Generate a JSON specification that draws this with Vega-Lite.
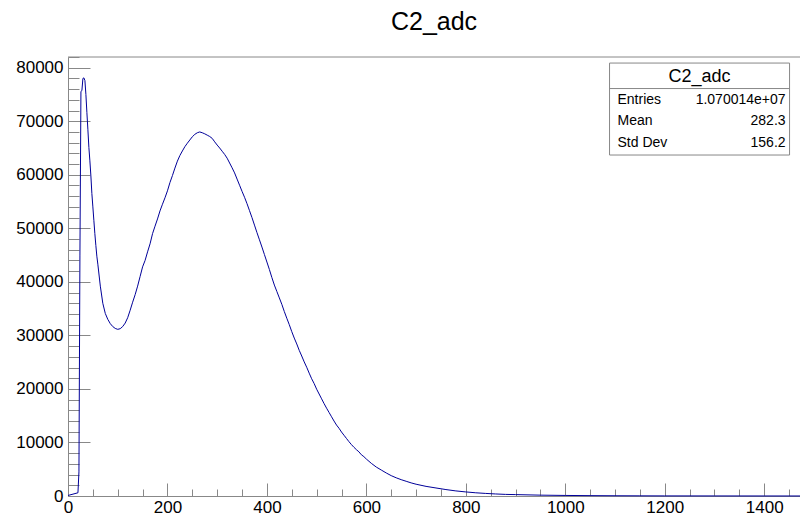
{
  "$schema": "https://vega.github.io/schema/vega-lite/v6.json",
  "width": 732,
  "height": 439,
  "autosize": {"type": "none"},
  "padding": {"left": 68, "top": 57, "right": 0, "bottom": 23},
  "background": "white",
  "config": {
    "view": {"stroke": null},
    "font": "Liberation Sans",
    "axis": {"labelFont": "Liberation Sans", "labelColor": "#000", "tickColor": "#888", "domainColor": "#888", "grid": false, "title": null}
  },
  "title": {"text": "C2_adc", "fontSize": 25, "fontWeight": "normal", "font": "Liberation Sans", "color": "#000", "anchor": "middle", "offset": 22},
  "datasets": {
    "hist": [
      {"x": 0, "y": 100}, {"x": 20, "y": 600}, {"x": 22, "y": 4500}, {"x": 24, "y": 45000}, {"x": 26, "y": 75500}, {"x": 28, "y": 75800},
      {"x": 30, "y": 78000}, {"x": 32, "y": 78100}, {"x": 34, "y": 77600}, {"x": 36, "y": 75000}, {"x": 38, "y": 71600}, {"x": 40, "y": 68400},
      {"x": 42, "y": 65100}, {"x": 44, "y": 62600}, {"x": 46, "y": 59800}, {"x": 48, "y": 56500}, {"x": 50, "y": 54000}, {"x": 52, "y": 51500},
      {"x": 54, "y": 49000}, {"x": 56, "y": 46800}, {"x": 58, "y": 44800}, {"x": 60, "y": 43300}, {"x": 65, "y": 39200}, {"x": 70, "y": 36000},
      {"x": 75, "y": 34100}, {"x": 80, "y": 33000}, {"x": 85, "y": 32200}, {"x": 90, "y": 31650}, {"x": 95, "y": 31300}, {"x": 100, "y": 31130},
      {"x": 105, "y": 31250}, {"x": 110, "y": 31650}, {"x": 115, "y": 32300}, {"x": 120, "y": 33300}, {"x": 125, "y": 34700}, {"x": 130, "y": 36200},
      {"x": 135, "y": 37600}, {"x": 140, "y": 39200}, {"x": 145, "y": 41000}, {"x": 150, "y": 42800}, {"x": 155, "y": 44000}, {"x": 160, "y": 45600},
      {"x": 165, "y": 47100}, {"x": 170, "y": 49000}, {"x": 175, "y": 50400}, {"x": 180, "y": 51750}, {"x": 185, "y": 53250}, {"x": 190, "y": 54500},
      {"x": 195, "y": 55700}, {"x": 200, "y": 57000}, {"x": 205, "y": 58550}, {"x": 210, "y": 59850}, {"x": 215, "y": 61250}, {"x": 220, "y": 62550},
      {"x": 225, "y": 63600}, {"x": 230, "y": 64450}, {"x": 235, "y": 65250}, {"x": 240, "y": 65900}, {"x": 245, "y": 66500}, {"x": 250, "y": 67100},
      {"x": 255, "y": 67550}, {"x": 260, "y": 67850}, {"x": 265, "y": 68000}, {"x": 270, "y": 67850}, {"x": 275, "y": 67650}, {"x": 280, "y": 67400},
      {"x": 285, "y": 67150}, {"x": 290, "y": 66800}, {"x": 295, "y": 66150}, {"x": 300, "y": 65550}, {"x": 305, "y": 65000}, {"x": 310, "y": 64400},
      {"x": 315, "y": 63800}, {"x": 320, "y": 63100}, {"x": 325, "y": 62200}, {"x": 330, "y": 61300}, {"x": 335, "y": 60350}, {"x": 340, "y": 59200},
      {"x": 345, "y": 58050}, {"x": 350, "y": 56900}, {"x": 355, "y": 55800}, {"x": 360, "y": 54600}, {"x": 365, "y": 53300}, {"x": 370, "y": 52000},
      {"x": 375, "y": 50600}, {"x": 380, "y": 49200}, {"x": 385, "y": 47850}, {"x": 390, "y": 46500}, {"x": 395, "y": 45100}, {"x": 400, "y": 43700},
      {"x": 405, "y": 42300}, {"x": 410, "y": 40800}, {"x": 415, "y": 39400}, {"x": 420, "y": 38200}, {"x": 425, "y": 37000}, {"x": 430, "y": 35800},
      {"x": 435, "y": 34450}, {"x": 440, "y": 33200}, {"x": 445, "y": 32000}, {"x": 450, "y": 30700}, {"x": 455, "y": 29500}, {"x": 460, "y": 28400},
      {"x": 465, "y": 27200}, {"x": 470, "y": 26150}, {"x": 475, "y": 25050}, {"x": 480, "y": 24050}, {"x": 485, "y": 22950}, {"x": 490, "y": 21900},
      {"x": 495, "y": 21000}, {"x": 500, "y": 19950}, {"x": 505, "y": 19050}, {"x": 510, "y": 18150}, {"x": 515, "y": 17250}, {"x": 520, "y": 16400},
      {"x": 525, "y": 15600}, {"x": 530, "y": 14800}, {"x": 535, "y": 14000}, {"x": 540, "y": 13250}, {"x": 545, "y": 12650}, {"x": 550, "y": 11950},
      {"x": 555, "y": 11350}, {"x": 560, "y": 10750}, {"x": 565, "y": 10150}, {"x": 570, "y": 9600}, {"x": 575, "y": 9100}, {"x": 580, "y": 8650},
      {"x": 585, "y": 8250}, {"x": 590, "y": 7700}, {"x": 595, "y": 7350}, {"x": 600, "y": 6900}, {"x": 610, "y": 6100}, {"x": 620, "y": 5400},
      {"x": 630, "y": 4850}, {"x": 640, "y": 4300}, {"x": 650, "y": 3800}, {"x": 660, "y": 3400}, {"x": 670, "y": 3050}, {"x": 680, "y": 2750},
      {"x": 690, "y": 2450}, {"x": 700, "y": 2200}, {"x": 720, "y": 1800}, {"x": 740, "y": 1500}, {"x": 760, "y": 1200}, {"x": 780, "y": 950},
      {"x": 800, "y": 760}, {"x": 820, "y": 600}, {"x": 840, "y": 480}, {"x": 860, "y": 380}, {"x": 880, "y": 300}, {"x": 900, "y": 260},
      {"x": 950, "y": 160}, {"x": 1000, "y": 105}, {"x": 1050, "y": 68}, {"x": 1100, "y": 44}, {"x": 1150, "y": 30}, {"x": 1200, "y": 20},
      {"x": 1300, "y": 12}, {"x": 1400, "y": 6}, {"x": 1472, "y": 5}
    ],
    "one": [{}]
  },
  "data": {"name": "hist"},
  "resolve": {"axis": {"x": "independent", "y": "independent"}},
  "layer": [
    {
      "mark": {"type": "line", "interpolate": "linear", "color": "#000099", "strokeWidth": 1},
      "encoding": {
        "x": {"field": "x", "type": "quantitative", "scale": {"domain": [0, 1472], "nice": false, "zero": false},
              "axis": {"orient": "bottom", "values": [0, 200, 400, 600, 800, 1000, 1200, 1400], "format": "d", "tickSize": -13, "labelPadding": 16, "labelFontSize": 17, "labelFlush": false, "labelOverlap": false, "domain": true}},
        "y": {"field": "y", "type": "quantitative", "scale": {"domain": [0, 82000], "nice": false},
              "axis": {"orient": "left", "values": [0, 10000, 20000, 30000, 40000, 50000, 60000, 70000, 80000], "format": "d", "tickSize": -22, "labelPadding": 27, "labelFontSize": 17, "labelOverlap": false, "domain": true}}
      }
    },
    {
      "mark": {"type": "line", "strokeOpacity": 0},
      "encoding": {
        "x": {"field": "x", "type": "quantitative",
              "axis": {"orient": "bottom", "values": [50, 100, 150, 250, 300, 350, 450, 500, 550, 650, 700, 750, 850, 900, 950, 1050, 1100, 1150, 1250, 1300, 1350, 1450], "tickSize": -7, "labels": false, "domain": false}},
        "y": {"field": "y", "type": "quantitative",
              "axis": {"orient": "left", "values": [2000, 4000, 6000, 8000, 12000, 14000, 16000, 18000, 22000, 24000, 26000, 28000, 32000, 34000, 36000, 38000, 42000, 44000, 46000, 48000, 52000, 54000, 56000, 58000, 62000, 64000, 66000, 68000, 72000, 74000, 76000, 78000, 82000], "tickSize": -11, "labels": false, "domain": false}}
      }
    },
    {
      "data": {"name": "one"},
      "mark": {"type": "rule", "color": "#888", "strokeWidth": 1},
      "encoding": {"y": {"datum": 82000, "type": "quantitative", "axis": null}}
    },
    {
      "data": {"name": "one"},
      "mark": {"type": "rect", "fill": "white", "stroke": "#888", "strokeWidth": 1},
      "encoding": {
        "x": {"datum": 1089, "type": "quantitative", "axis": null},
        "x2": {"datum": 1451},
        "y": {"datum": 80870, "type": "quantitative", "axis": null},
        "y2": {"datum": 63690}
      }
    },
    {
      "data": {"name": "one"},
      "mark": {"type": "rule", "color": "#888", "strokeWidth": 1},
      "encoding": {
        "x": {"datum": 1089, "type": "quantitative", "axis": null},
        "x2": {"datum": 1451},
        "y": {"datum": 76110, "type": "quantitative", "axis": null}
      }
    },
    {
      "data": {"name": "one"},
      "mark": {"type": "text", "fontSize": 18, "align": "center", "baseline": "middle", "color": "#000", "font": "Liberation Sans"},
      "encoding": {"x": {"datum": 1270, "type": "quantitative", "axis": null}, "y": {"datum": 78350, "type": "quantitative", "axis": null}, "text": {"value": "C2_adc"}}
    },
    {
      "data": {"name": "one"},
      "mark": {"type": "text", "fontSize": 14, "align": "left", "baseline": "middle", "color": "#000", "font": "Liberation Sans"},
      "encoding": {"x": {"datum": 1105, "type": "quantitative", "axis": null}, "y": {"datum": 73960, "type": "quantitative", "axis": null}, "text": {"value": "Entries"}}
    },
    {
      "data": {"name": "one"},
      "mark": {"type": "text", "fontSize": 14, "align": "left", "baseline": "middle", "color": "#000", "font": "Liberation Sans"},
      "encoding": {"x": {"datum": 1105, "type": "quantitative", "axis": null}, "y": {"datum": 70040, "type": "quantitative", "axis": null}, "text": {"value": "Mean"}}
    },
    {
      "data": {"name": "one"},
      "mark": {"type": "text", "fontSize": 14, "align": "left", "baseline": "middle", "color": "#000", "font": "Liberation Sans"},
      "encoding": {"x": {"datum": 1105, "type": "quantitative", "axis": null}, "y": {"datum": 65930, "type": "quantitative", "axis": null}, "text": {"value": "Std Dev"}}
    },
    {
      "data": {"name": "one"},
      "mark": {"type": "text", "fontSize": 14, "align": "right", "baseline": "middle", "color": "#000", "font": "Liberation Sans"},
      "encoding": {"x": {"datum": 1443, "type": "quantitative", "axis": null}, "y": {"datum": 73960, "type": "quantitative", "axis": null}, "text": {"value": "1.070014e+07"}}
    },
    {
      "data": {"name": "one"},
      "mark": {"type": "text", "fontSize": 14, "align": "right", "baseline": "middle", "color": "#000", "font": "Liberation Sans"},
      "encoding": {"x": {"datum": 1443, "type": "quantitative", "axis": null}, "y": {"datum": 70040, "type": "quantitative", "axis": null}, "text": {"value": "282.3"}}
    },
    {
      "data": {"name": "one"},
      "mark": {"type": "text", "fontSize": 14, "align": "right", "baseline": "middle", "color": "#000", "font": "Liberation Sans"},
      "encoding": {"x": {"datum": 1443, "type": "quantitative", "axis": null}, "y": {"datum": 65930, "type": "quantitative", "axis": null}, "text": {"value": "156.2"}}
    }
  ]
}
